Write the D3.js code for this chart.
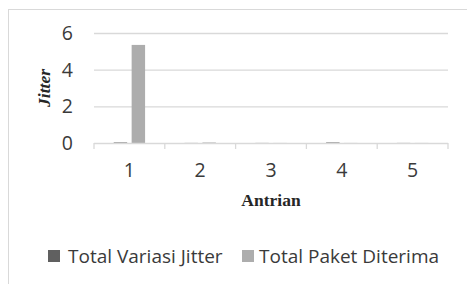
<!DOCTYPE html>
<html><head><meta charset="utf-8">
<script src="https://cdn.jsdelivr.net/npm/d3@7"></script>
<style>body{margin:0;background:#fff}svg{display:block}</style>
</head><body>
<script>
const categories = ["1","2","3","4","5"];
const seriesNames = ["Total Variasi Jitter","Total Paket Diterima"];
const jitterValues = [0.03, 0.005, 0.005, 0.03, 0.005];
const paketValues = [5.35, 0.03, 0.005, 0.005, 0.005];
const yTicks = [0,2,4,6];
const colors = ["#606060","#adadad"];

const W=467,H=284;
const svg=d3.select("body").append("svg").attr("width",W).attr("height",H);
svg.append("rect").attr("x",8.5).attr("y",9.5).attr("width",470).attr("height",290)
  .attr("fill","none").attr("stroke","#d9d9d9");

const x0=94,x1=448,yTop=33,yBot=143;
const x=d3.scaleBand().domain(categories).range([x0,x1]);
const y=d3.scaleLinear().domain([0,6]).range([yBot,yTop]);
const xs=d3.scaleBand().domain(seriesNames).range([0,x.bandwidth()]).paddingInner(0.25).paddingOuter(1.1);

const sans="'Open Sans', sans-serif";
const tickFs=19.5, legFs=19;
svg.append("g").selectAll("line").data(yTicks.filter(d=>d>0)).join("line")
  .attr("x1",x0).attr("x2",x1).attr("y1",d=>y(d)+0.5).attr("y2",d=>y(d)+0.5)
  .attr("stroke","#d9d9d9").attr("stroke-width",1.3);
svg.append("g").selectAll("text").data(yTicks).join("text")
  .attr("x",73).attr("y",d=>y(d)).attr("dy","0.36em").attr("text-anchor","end")
  .attr("font-family",sans).attr("font-size",tickFs).attr("fill","#3a3a3a").text(d=>d);

const data=categories.map((c,i)=>({c,vals:[jitterValues[i],paketValues[i]]}));
const g=svg.append("g").selectAll("g").data(data).join("g").attr("transform",d=>`translate(${x(d.c)},0)`);
g.selectAll("rect").data(d=>d.vals.map((v,j)=>({v,s:seriesNames[j],j}))).join("rect")
  .attr("x",d=>xs(d.s)).attr("width",xs.bandwidth())
  .attr("y",d=>y(d.v)).attr("height",d=>yBot-y(d.v)).attr("fill",d=>colors[d.j]);

const ax=svg.append("g").attr("transform",`translate(0,${yBot+0.5})`)
  .call(d3.axisBottom(x).tickSize(0).tickPadding(0).tickFormat(""));
ax.select(".domain").remove();
svg.append("line").attr("x1",x0).attr("x2",x1).attr("y1",yBot+0.5).attr("y2",yBot+0.5).attr("stroke","#d9d9d9").attr("stroke-width",1.3);
svg.append("g").selectAll("line").data(categories.concat(["end"])).join("line")
  .attr("x1",(d,i)=>i<categories.length?x(d):x1).attr("x2",(d,i)=>i<categories.length?x(d):x1)
  .attr("y1",yBot).attr("y2",yBot+6).attr("stroke","#d9d9d9").attr("stroke-width",1.3);
svg.append("g").selectAll("text").data(categories).join("text")
  .attr("x",d=>x(d)+x.bandwidth()/2).attr("y",177).attr("text-anchor","middle")
  .attr("font-family",sans).attr("font-size",tickFs).attr("fill","#3a3a3a").text(d=>d);

svg.append("text").attr("x",271).attr("y",206).attr("text-anchor","middle")
  .attr("font-family","'Liberation Serif', 'DejaVu Serif', serif").attr("font-weight","bold")
  .attr("font-size",17.5).attr("fill","#262626").text("Antrian");
svg.append("text").attr("transform","translate(50,88) rotate(-90)").attr("text-anchor","middle")
  .attr("font-family","'Liberation Serif', 'DejaVu Serif', serif").attr("font-weight","bold").attr("font-style","italic")
  .attr("font-size",17.5).attr("fill","#262626").text("Jitter");

const leg=[{x:48,tx:68},{x:242,tx:259}];
seriesNames.forEach((s,i)=>{
  svg.append("rect").attr("x",leg[i].x).attr("y",250).attr("width",12).attr("height",12).attr("fill",colors[i]);
  svg.append("text").attr("x",leg[i].tx).attr("y",263).attr("font-family",sans).attr("font-size",legFs)
    .attr("fill","#3a3a3a").text(s);
});
</script>
</body></html>
